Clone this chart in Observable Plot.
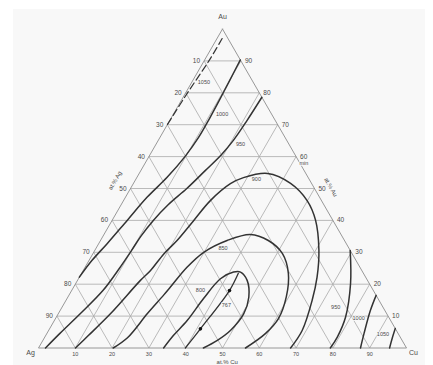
<!DOCTYPE html>
<html>
<head>
<meta charset="utf-8">
<script src="https://cdn.jsdelivr.net/npm/d3@7"></script>
<script src="https://cdn.jsdelivr.net/npm/@observablehq/plot@0.6"></script>
<style>
  html, body { margin: 0; padding: 0; background: #ffffff; }
  #wrap { position: relative; width: 433px; height: 365px; overflow: hidden; }
  #bg { position: absolute; left: 13px; top: 9px; width: 412px; height: 360px; background: #f8f8f8; }
  #chart { position: absolute; left: 0; top: 0; }
</style>
</head>
<body>
<div id="wrap"><div id="bg"></div><div id="chart"></div></div>
<script>
// ---- Data: isotherms as [Au fraction, Cu fraction] pairs (Ag = 1 - Au - Cu) ----
const iso1050Au = [[0.97, 0.014], [0.90, 0.013], [0.80, 0.005], [0.70, 0.0]];
const iso1000Au = [[0.903, 0.097], [0.84, 0.100], [0.78, 0.103], [0.72, 0.105], [0.66, 0.105],
  [0.60, 0.098], [0.535, 0.082], [0.473, 0.059], [0.40, 0.041], [0.327, 0.023], [0.274, 0.008], [0.222, 0.0]];
const iso950Au = [[0.786, 0.214], [0.713, 0.210], [0.65, 0.204], [0.606, 0.194], [0.556, 0.175],
  [0.50, 0.153], [0.45, 0.128], [0.40, 0.112], [0.35, 0.103], [0.306, 0.100], [0.25, 0.095],
  [0.18, 0.085], [0.108, 0.060], [0.045, 0.035], [0.0, 0.019]];
const iso900 = [[0.0, 0.1005], [0.039, 0.116], [0.108, 0.142], [0.212, 0.171], [0.243, 0.183],
  [0.295, 0.193], [0.337, 0.208], [0.40, 0.222], [0.462, 0.236], [0.515, 0.264], [0.534, 0.290],
  [0.547, 0.349], [0.516, 0.427], [0.462, 0.499], [0.40, 0.553], [0.306, 0.609], [0.222, 0.646],
  [0.149, 0.669], [0.055, 0.689], [0.0, 0.685]];
const iso850 = [[0.0, 0.203], [0.033, 0.226], [0.108, 0.242], [0.165, 0.257], [0.191, 0.263],
  [0.253, 0.277], [0.30, 0.299], [0.337, 0.344], [0.356, 0.398], [0.337, 0.456], [0.296, 0.515],
  [0.234, 0.562], [0.161, 0.593], [0.092, 0.606], [0.045, 0.594], [0.0, 0.5625]];
const iso800 = [[0.0, 0.340], [0.039, 0.347], [0.086, 0.361], [0.155, 0.371], [0.217, 0.386],
  [0.238, 0.411], [0.238, 0.430], [0.212, 0.461], [0.159, 0.492], [0.107, 0.504], [0.055, 0.494],
  [0.024, 0.474], [0.0, 0.448]];
const trough = [[0.0, 0.399], [0.060, 0.410], [0.180, 0.429], [0.234, 0.426]];
const troughDots = [[0.060, 0.410], [0.180, 0.429]];
const iso950Cu = [[0.306, 0.694], [0.202, 0.747], [0.097, 0.786], [0.034, 0.795], [0.0, 0.793]];
const iso1000Cu = [[0.165, 0.835], [0.118, 0.843], [0.045, 0.862], [0.0, 0.875]];
const iso1050Cu = [[0.061, 0.939], [0.030, 0.946], [0.0, 0.954]];

// isotherm labels: [text, Au, Cu]
const isoLabels = [["1050", 0.833, 0.033], ["1000", 0.734, 0.132], ["950", 0.640, 0.229],
  ["900", 0.528, 0.328], ["850", 0.313, 0.345], ["800", 0.180, 0.350], ["767", 0.133, 0.444],
  ["950", 0.129, 0.743], ["1000", 0.092, 0.824], ["1050", 0.042, 0.915], ["min", 0.578, 0.432]];

// grid ticks (fractions) and tick labels
const ticks = [0.1, 0.2, 0.3, 0.4, 0.5, 0.6, 0.7, 0.8, 0.9];
const agLabels = ["10", "20", "30", "40", "50", "60", "70", "80", "90"];
const auLabels = ["10", "20", "30", "40", "50", "60", "70", "80", "90"];
const cuLabels = ["10", "20", "30", "40", "50", "60", "70", "80", "90"];
const cornerNames = ["Au", "Ag", "Cu"];
const axisTitles = ["at.% Ag", "at.% Au", "at.% Cu"];

// ---- ternary projection (x = Cu + Au/2, y = Au) ----
const pts = arr => arr.map(([au, cu]) => ({au, cu}));
const X = d => d.cu + d.au / 2;
const Y = d => d.au;

const gridColor = "#a9a9a9";
const lineColor = "#333333";
const textColor = "#4a4a4a";
const font = "'Liberation Sans', Arial, sans-serif";

// grid segments built from ticks
const auLines = ticks.map(t => ({x1: t / 2, y1: t, x2: 1 - t / 2, y2: t}));
const cuLines = ticks.map(c => ({x1: c, y1: 0, x2: c + (1 - c) / 2, y2: 1 - c}));
const agLines = ticks.map(a => ({x1: 1 - a, y1: 0, x2: (1 - a) / 2, y2: 1 - a}));
const border = pts([[1, 0], [0, 0], [0, 1], [1, 0]]);

// tick label data
const leftTicks = ticks.map((t, i) => ({au: 1 - t, cu: 0, text: agLabels[i]}));
const rightTicks = ticks.map((t, i) => ({au: t, cu: 1 - t, text: auLabels[i]}));
const bottomTicks = ticks.map((t, i) => ({au: 0, cu: t, text: cuLabels[i]}));

const curve = (arr, extra = {}) => Plot.line(pts(arr), {
  x: X, y: Y, curve: "catmull-rom", stroke: lineColor, strokeWidth: 1.5, ...extra
});

const chart = Plot.plot({
  width: 433, height: 365,
  marginLeft: 38, marginRight: 27, marginTop: 28.5, marginBottom: 17.5,
  x: {domain: [0, 1], axis: null},
  y: {domain: [0, 1], axis: null},
  style: {background: "transparent", overflow: "visible", fontFamily: font},
  marks: [
    Plot.link(auLines, {x1: "x1", y1: "y1", x2: "x2", y2: "y2", stroke: gridColor, strokeWidth: 0.8}),
    Plot.link(cuLines, {x1: "x1", y1: "y1", x2: "x2", y2: "y2", stroke: gridColor, strokeWidth: 0.8}),
    Plot.link(agLines, {x1: "x1", y1: "y1", x2: "x2", y2: "y2", stroke: gridColor, strokeWidth: 0.8}),
    Plot.line(border, {x: X, y: Y, stroke: "#8c8c8c", strokeWidth: 0.9}),
    // isotherms
    curve(iso1050Au, {strokeDasharray: "7,3.5", strokeWidth: 1.2}),
    curve(iso1000Au),
    curve(iso950Au),
    curve(iso900),
    curve(iso850),
    curve(iso800),
    curve(trough, {strokeWidth: 1.3}),
    curve(iso950Cu),
    curve(iso1000Cu),
    curve(iso1050Cu),
    Plot.dot(pts(troughDots), {x: X, y: Y, r: 1.8, fill: "#111", stroke: null}),
    // isotherm labels
    Plot.text(isoLabels, {x: d => d[2] + d[1] / 2, y: d => d[1], text: d => d[0],
      fontSize: 5.5, fill: textColor, stroke: "#f8f8f8", strokeWidth: 1.5}),
    // edge tick labels
    Plot.text(leftTicks, {x: X, y: Y, text: "text", dx: -4, textAnchor: "end", fontSize: 6.5, fill: textColor}),
    Plot.text(rightTicks, {x: X, y: Y, text: "text", dx: 4, textAnchor: "start", fontSize: 6.5, fill: textColor}),
    Plot.text(bottomTicks, {x: X, y: Y, text: "text", dy: 6, fontSize: 5.5, fill: textColor}),
    // corner names
    Plot.text([{au: 1, cu: 0, t: cornerNames[0]}], {x: X, y: Y, text: "t", dy: -12, fontSize: 7, fill: textColor}),
    Plot.text([{au: 0, cu: 0, t: cornerNames[1]}], {x: X, y: Y, text: "t", dx: -8, dy: 5, fontSize: 7, fill: textColor}),
    Plot.text([{au: 0, cu: 1, t: cornerNames[2]}], {x: X, y: Y, text: "t", dx: 7, dy: 5, fontSize: 7, fill: textColor}),
    // axis titles
    Plot.text([{au: 0.525, cu: 0, t: axisTitles[0]}], {x: X, y: Y, text: "t", dx: -20, rotate: -60, fontSize: 6, fill: textColor}),
    Plot.text([{au: 0.504, cu: 0.496, t: axisTitles[1]}], {x: X, y: Y, text: "t", dx: 17, rotate: 60, fontSize: 6, fill: textColor}),
    Plot.text([{au: 0, cu: 0.513, t: axisTitles[2]}], {x: X, y: Y, text: "t", dy: 14, fontSize: 6, fill: textColor})
  ]
});
document.getElementById("chart").appendChild(chart);
</script>
</body>
</html>
